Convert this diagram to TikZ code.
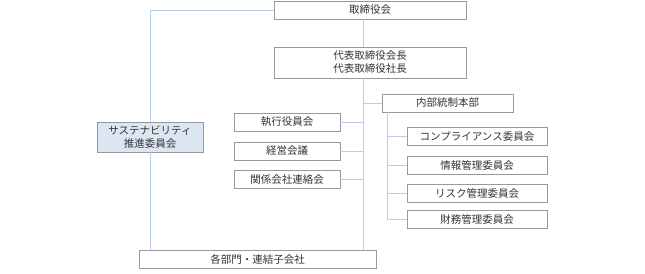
\documentclass[tikz,border=0pt]{standalone}
\usepackage{fontspec}
\setmainfont{Noto Sans CJK JP}
\usepackage{tikz}
\usetikzlibrary{positioning, shadows}
\definecolor{linkblue}{HTML}{B8CCEC}
\definecolor{boxgray}{HTML}{999999}
\definecolor{paleblue}{HTML}{DCE6F2}
\definecolor{inkgray}{HTML}{333333}

\tikzset{
  orgbox/.style={draw=boxgray, fill=white, line width=0.6pt, inner sep=0pt,
    minimum height=18pt, align=center, text=inkgray,
    font=\fontsize{10.5}{13}\selectfont,
    drop shadow={shadow xshift=0.8pt, shadow yshift=-0.8pt, fill=black!35, opacity=1}},
  link/.style={draw=linkblue, line width=0.9pt}
}

\begin{document}
\begin{tikzpicture}[x=1pt, y=-1pt]
    \useasboundingbox (0,0) rectangle (645,273);
    % spine coordinates
    \coordinate (trunk) at (363,0);
    \coordinate (sub) at (387,0);

    \node[orgbox, minimum width=192pt] (board) at (370,10) {取締役会};
    \node[orgbox, minimum width=192pt, minimum height=31pt] (rep) at (370,62.5) {代表取締役会長\\代表取締役社長};
    \node[orgbox, minimum width=131pt] (control) at (447.5,103) {内部統制本部};
    \node[orgbox, minimum width=106pt] (exec) at (287,122) {執行役員会};
    \node[orgbox, minimum width=106pt] (mgmt) at (287,151) {経営会議};
    \node[orgbox, minimum width=106pt] (affil) at (287,179.5) {関係会社連絡会};
    \node[orgbox, minimum width=140pt] (comply) at (477,136.5) {コンプライアンス委員会};
    \node[orgbox, minimum width=140pt] (info) at (477,165) {情報管理委員会};
    \node[orgbox, minimum width=140pt] (risk) at (477,193.5) {リスク管理委員会};
    \node[orgbox, minimum width=140pt] (finance) at (477,219) {財務管理委員会};
    \node[orgbox, minimum width=106pt, minimum height=30pt, fill=paleblue] (sustain) at (150,137) {サステナビリティ\\推進委員会};
    \node[orgbox, minimum width=237pt] (units) at (257.5,259) {各部門・連結子会社};

    % connectors
    \draw[link] (board.south -| trunk) -- (rep.north -| trunk);
    \draw[link] (rep.south -| trunk) -- (units.north -| trunk);
    \draw[link] (board.west) -| (sustain.north);
    \draw[link] (sustain.south) -- (units.north -| sustain.south);
    \draw[link] (control.west) -- (control.west -| trunk);
    \foreach \n in {exec, mgmt, affil}
      \draw[link] (\n.east) -- (\n.east -| trunk);
    \draw[link] (control.south -| sub) |- (finance.west);
    \foreach \n in {comply, info, risk}
      \draw[link] (\n.west) -- (\n.west -| sub);
  \end{tikzpicture}
\end{document}
